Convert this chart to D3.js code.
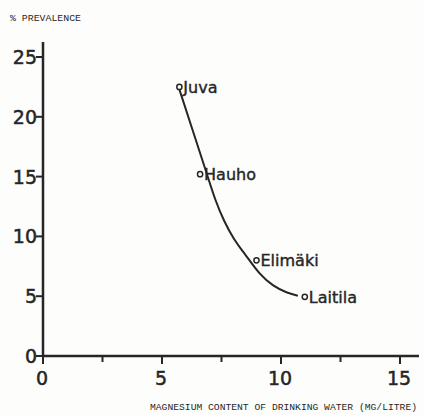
<!DOCTYPE html>
<html><head><meta charset="utf-8">
<script src="https://cdn.jsdelivr.net/npm/d3@7"></script>
<style>body{margin:0;background:#fdfdfc}svg{display:block}</style>
</head><body>
<script>
// Data
const towns = ["Juva", "Hauho", "Elimäki", "Laitila"];
const magnesium = [5.73, 6.6, 8.97, 11.0];
const prevalence = [22.5, 15.2, 8.0, 4.95];
// fitted curve
const curveMg = [5.71, 6.3, 6.88, 7.23, 7.62, 8.02, 8.40, 8.70, 9.10, 9.65, 10.25, 10.71];
const curvePrev = [22.41, 18.8, 15.28, 13.04, 11.2, 9.75, 8.72, 7.95, 6.85, 5.85, 5.28, 5.04];
const xTicks = [0, 5, 10, 15];
const xMinorTicks = [2.5, 7.5, 12.5];
const yTicks = [0, 5, 10, 15, 20, 25];
const yTitle = "% PREVALENCE";
const xTitle = "MAGNESIUM CONTENT OF DRINKING WATER (MG/LITRE)";

const W = 424, H = 415, ink = "#262626";
const svg = d3.select("body").append("svg").attr("width", W).attr("height", H);
const x = d3.scaleLinear().domain([0, 15]).range([43, 400]);
const y = d3.scaleLinear().domain([0, 25]).range([356, 57]);

// axes lines
svg.append("line").attr("x1", x(0)).attr("x2", 419).attr("y1", y(0)).attr("y2", y(0))
  .attr("stroke", ink).attr("stroke-width", 2.5);
svg.append("line").attr("x1", x(0)).attr("x2", x(0)).attr("y1", 42).attr("y2", y(0) + 1)
  .attr("stroke", ink).attr("stroke-width", 2.5);

// y ticks
svg.selectAll(".yt").data(yTicks).join("line")
  .attr("x1", x(0) - 7).attr("x2", x(0)).attr("y1", d => y(d)).attr("y2", d => y(d))
  .attr("stroke", ink).attr("stroke-width", 2);
svg.selectAll(".yl").data(yTicks).join("text")
  .attr("x", x(0) - 6).attr("y", d => y(d) + 7).attr("text-anchor", "end")
  .attr("font-family", "DejaVu Sans").attr("font-size", 19).attr("fill", ink)
  .attr("stroke", ink).attr("stroke-width", 0.5)
  .text(d => d);

// x ticks
svg.selectAll(".xt").data(xTicks).join("line")
  .attr("x1", d => x(d)).attr("x2", d => x(d)).attr("y1", y(0)).attr("y2", y(0) + 8)
  .attr("stroke", ink).attr("stroke-width", 2);
svg.selectAll(".xm").data(xMinorTicks).join("line")
  .attr("x1", d => x(d)).attr("x2", d => x(d)).attr("y1", y(0)).attr("y2", y(0) + 6)
  .attr("stroke", ink).attr("stroke-width", 2);
svg.selectAll(".xl").data(xTicks).join("text")
  .attr("x", d => x(d) - 1).attr("y", y(0) + 29).attr("text-anchor", "middle")
  .attr("font-family", "DejaVu Sans").attr("font-size", 19).attr("fill", ink)
  .attr("stroke", ink).attr("stroke-width", 0.5)
  .text(d => d);

// titles
svg.append("text").attr("x", 10).attr("y", 21).attr("font-family", "Liberation Mono")
  .attr("font-size", 9).attr("fill", ink).attr("textLength", 71).attr("lengthAdjust", "spacingAndGlyphs")
  .text(yTitle);
svg.append("text").attr("x", 150).attr("y", 410).attr("font-family", "Liberation Mono")
  .attr("font-size", 9).attr("fill", ink).attr("textLength", 267).attr("lengthAdjust", "spacingAndGlyphs")
  .text(xTitle);

// curve
const curvePts = curveMg.map((m, i) => [m, curvePrev[i]]);
svg.append("path").datum(curvePts)
  .attr("d", d3.line().x(d => x(d[0])).y(d => y(d[1])).curve(d3.curveBasis))
  .attr("fill", "none").attr("stroke", ink).attr("stroke-width", 2);

// points
const pts = towns.map((t, i) => ({t, m: magnesium[i], p: prevalence[i]}));
svg.selectAll(".pt").data(pts).join("circle")
  .attr("cx", d => x(d.m)).attr("cy", d => y(d.p)).attr("r", 2.6)
  .attr("fill", "#fdfdfc").attr("stroke", ink).attr("stroke-width", 1.5);
svg.selectAll(".pl").data(pts).join("text")
  .attr("x", d => x(d.m) + 4).attr("y", d => y(d.p) + 6)
  .attr("font-family", "DejaVu Sans").attr("font-size", 16).attr("fill", ink)
  .attr("stroke", ink).attr("stroke-width", 0.4)
  .text(d => d.t);
</script>
</body></html>
